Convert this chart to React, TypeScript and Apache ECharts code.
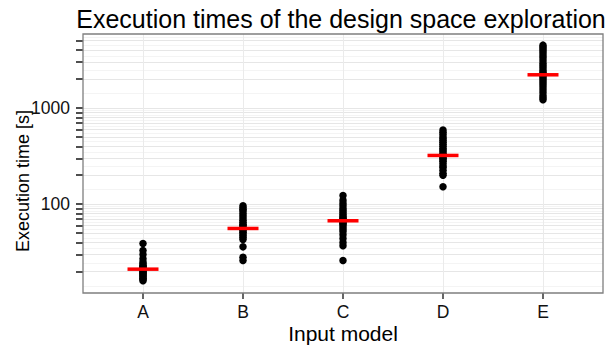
import React, { useEffect, useRef } from 'react';
import * as echarts from 'echarts';

const categories = ['A', 'B', 'C', 'D', 'E'];

const timesA = [39, 33, 30, 27, 25, 24, 23, 22.5, 22, 21.5, 21, 20.5, 20, 19.5, 19, 18.5, 18, 17.5, 17, 16.5, 16];
const timesB = [96, 92, 88, 85, 80, 76, 72, 68, 65, 62, 60, 58, 56, 55, 53, 51, 49, 47, 45, 43, 36, 28, 26];
const timesC = [123, 110, 102, 96, 90, 86, 82, 78, 75, 72, 70, 68, 67, 65, 63, 61, 58, 55, 52, 48, 44, 40, 37, 26];
const timesD = [590, 560, 530, 500, 480, 460, 440, 420, 400, 380, 365, 350, 335, 325, 320, 310, 300, 290, 280, 265, 250, 240, 225, 210, 200, 152];
const timesE = [4500, 4300, 4100, 3900, 3700, 3500, 3300, 3100, 2900, 2750, 2600, 2450, 2350, 2250, 2200, 2150, 2050, 1950, 1850, 1750, 1650, 1550, 1450, 1350, 1280, 1220];

const medians = [21.1, 55.9, 67.2, 321, 2213];

const yLabelValues = [100, 1000];
const yTickValues = [20, 30, 40, 50, 60, 70, 80, 90, 100, 200, 300, 400, 500, 600, 700, 800, 900, 1000, 2000, 3000, 4000, 5000];

const FONT = "'Liberation Sans', Arial, Helvetica, sans-serif";

export default function App() {
  const ref = useRef<HTMLDivElement>(null);

  useEffect(() => {
    if (!ref.current) return;
    const chart = echarts.init(ref.current, undefined, { renderer: 'svg' });

    const groups = [timesA, timesB, timesC, timesD, timesE];
    const points: number[][] = [];
    groups.forEach((g, i) => g.forEach((v) => points.push([i, Math.log10(v)])));

    const tickLogs = yTickValues.map((v) => Math.log10(v));
    const labelLogs = yLabelValues.map((v) => Math.log10(v));
    const allTicks = [10, ...yTickValues, 6000].map((v) => Math.log10(v));
    const mids: number[] = [];
    for (let i = 0; i < allTicks.length - 1; i++) mids.push((allTicks[i] + allTicks[i + 1]) / 2);

    const yMin = 1.0765;
    const yMax = 3.769;

    chart.setOption({
      animation: false,
      backgroundColor: '#ffffff',
      textStyle: { fontFamily: FONT },
      graphic: [
        {
          type: 'text',
          x: 341,
          y: 19,
          style: {
            text: 'Execution times of the design space exploration',
            fontSize: 25,
            fontFamily: FONT,
            fill: '#000',
            textAlign: 'center',
            textVerticalAlign: 'middle',
          },
        },
        {
          type: 'text',
          x: 23,
          y: 181,
          rotation: Math.PI / 2,
          style: {
            text: 'Execution time [s]',
            fontSize: 18,
            fontFamily: FONT,
            fill: '#000',
            textAlign: 'center',
            textVerticalAlign: 'middle',
          },
        },
      ],
      grid: {
        left: 83,
        top: 34,
        width: 520,
        height: 259,
        show: true,
        borderColor: '#7f7f7f',
        borderWidth: 1.3,
        backgroundColor: 'transparent',
        outerBoundsMode: 'none',
        containLabel: false,
        z: 10,
      },
      xAxis: {
        type: 'value',
        min: -0.6,
        max: 4.6,
        name: 'Input model',
        nameLocation: 'middle',
        nameGap: 30,
        nameMoveOverlap: false,
        nameTextStyle: { fontSize: 21, color: '#000', fontFamily: FONT },
        axisLine: { show: false, onZero: false },
        axisTick: {
          show: true,
          length: 6,
          customValues: [0, 1, 2, 3, 4],
          lineStyle: { color: '#333', width: 1.5 },
        },
        axisLabel: {
          customValues: [0, 1, 2, 3, 4],
          formatter: (v: number) => categories[Math.round(v)] ?? '',
          fontSize: 17.5,
          color: '#111',
          margin: 10,
          fontFamily: FONT,
        },
        splitLine: { show: true, lineStyle: { color: '#ebebeb', width: 1 } },
      },
      yAxis: [
        {
          type: 'value',
          min: yMin,
          max: yMax,
          position: 'left',
          axisLine: { show: false, onZero: false },
          axisTick: {
            show: true,
            length: 7,
            customValues: tickLogs,
            lineStyle: { color: '#222', width: 1.6 },
          },
          axisLabel: {
            customValues: labelLogs,
            formatter: (v: number) => String(Math.round(Math.pow(10, v))),
            fontSize: 17.5,
            color: '#111',
            margin: 13,
            fontFamily: FONT,
          },
          splitLine: { show: true, lineStyle: { color: '#e6e6e6', width: 1 } },
        },
        {
          type: 'value',
          min: yMin,
          max: yMax,
          position: 'right',
          axisLine: { show: false, onZero: false },
          axisTick: { show: false, customValues: mids },
          axisLabel: { show: false },
          splitLine: { show: true, lineStyle: { color: '#f4f4f4', width: 1 } },
        },
      ],
      series: [
        {
          type: 'scatter',
          yAxisIndex: 0,
          data: points,
          symbol: 'circle',
          symbolSize: 7.5,
          itemStyle: { color: '#000', opacity: 1 },
          z: 3,
        },
        {
          type: 'scatter',
          yAxisIndex: 0,
          data: medians.map((m, i) => [i, Math.log10(m)]),
          symbol: 'rect',
          symbolSize: [31, 3.5],
          itemStyle: { color: '#ff0000', opacity: 1 },
          z: 4,
        },
      ],
    });

    return () => chart.dispose();
  }, []);

  return (
    <div
      ref={ref}
      style={{ position: 'fixed', left: 0, top: 0, width: 613, height: 345, background: '#fff' }}
    />
  );
}
